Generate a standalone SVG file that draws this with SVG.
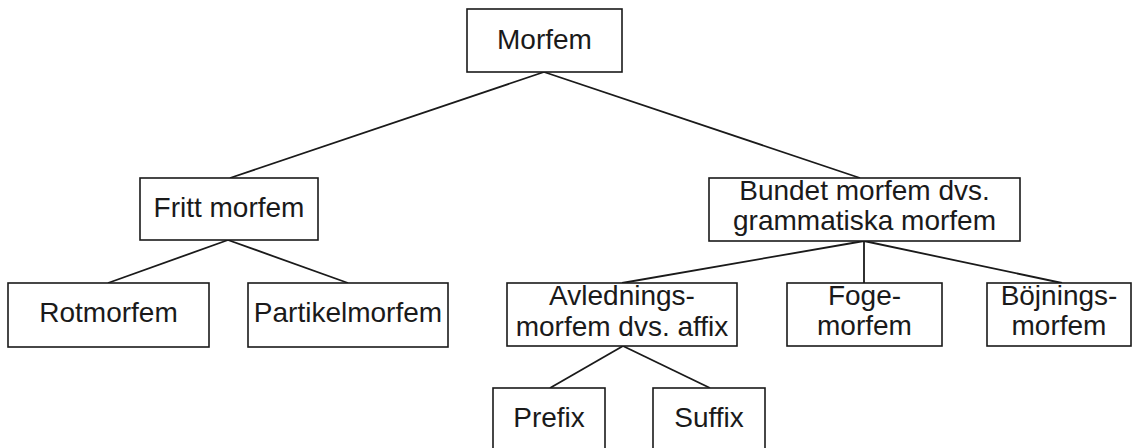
<svg xmlns="http://www.w3.org/2000/svg" width="1134" height="448" viewBox="0 0 1134 448">
  <style>
    .box { fill: #ffffff; stroke: #1a1a1a; stroke-width: 1.6; }
    .lbl { font-family: "Liberation Sans", Arial, sans-serif; font-size: 28px; fill: #1a1a1a; text-anchor: middle; }
    .edge { stroke: #1a1a1a; stroke-width: 1.8; fill: none; }
  </style>
  <rect width="1134" height="448" fill="#ffffff"/>

  <!-- tree edges -->
  <g id="connectors">
    <line class="edge" x1="544" y1="72" x2="230" y2="178"/>
    <line class="edge" x1="544" y1="72" x2="860" y2="178"/>
    <line class="edge" x1="228" y1="240" x2="108" y2="283"/>
    <line class="edge" x1="228" y1="240" x2="348" y2="283"/>
    <line class="edge" x1="864" y1="241" x2="622" y2="283"/>
    <line class="edge" x1="864" y1="241" x2="864" y2="283"/>
    <line class="edge" x1="864" y1="241" x2="1062" y2="283"/>
    <line class="edge" x1="623" y1="346" x2="550" y2="388"/>
    <line class="edge" x1="623" y1="346" x2="710" y2="388"/>
  </g>

  <g id="morfem">
    <rect class="box" x="467" y="9" width="155" height="63"/>
    <text class="lbl" x="544.5" y="49">Morfem</text>
  </g>

  <g id="fritt">
    <rect class="box" x="140" y="178" width="178" height="62"/>
    <text class="lbl" x="229" y="217">Fritt morfem</text>
  </g>

  <g id="bundet">
    <rect class="box" x="709" y="178" width="311" height="63"/>
    <text class="lbl" x="864.5" y="200">Bundet morfem dvs.</text>
    <text class="lbl" x="864.5" y="230">grammatiska morfem</text>
  </g>

  <g id="rotmorfem">
    <rect class="box" x="8" y="283" width="201" height="64"/>
    <text class="lbl" x="108.5" y="322">Rotmorfem</text>
  </g>

  <g id="partikelmorfem">
    <rect class="box" x="248" y="283" width="200" height="64"/>
    <text class="lbl" x="348" y="322">Partikelmorfem</text>
  </g>

  <g id="avlednings">
    <rect class="box" x="507" y="283" width="230" height="63"/>
    <text class="lbl" x="622" y="305">Avlednings-</text>
    <text class="lbl" x="622" y="336">morfem dvs. affix</text>
  </g>

  <g id="foge">
    <rect class="box" x="787" y="283" width="155" height="63"/>
    <text class="lbl" x="864.5" y="305">Foge-</text>
    <text class="lbl" x="864.5" y="335">morfem</text>
  </g>

  <g id="bojnings">
    <rect class="box" x="987" y="283" width="144" height="63"/>
    <text class="lbl" x="1059" y="305">Böjnings-</text>
    <text class="lbl" x="1059" y="335">morfem</text>
  </g>

  <g id="prefix">
    <rect class="box" x="493" y="388" width="112" height="70"/>
    <text class="lbl" x="549" y="427">Prefix</text>
  </g>

  <g id="suffix">
    <rect class="box" x="653" y="388" width="112" height="70"/>
    <text class="lbl" x="709" y="427">Suffix</text>
  </g>
</svg>
